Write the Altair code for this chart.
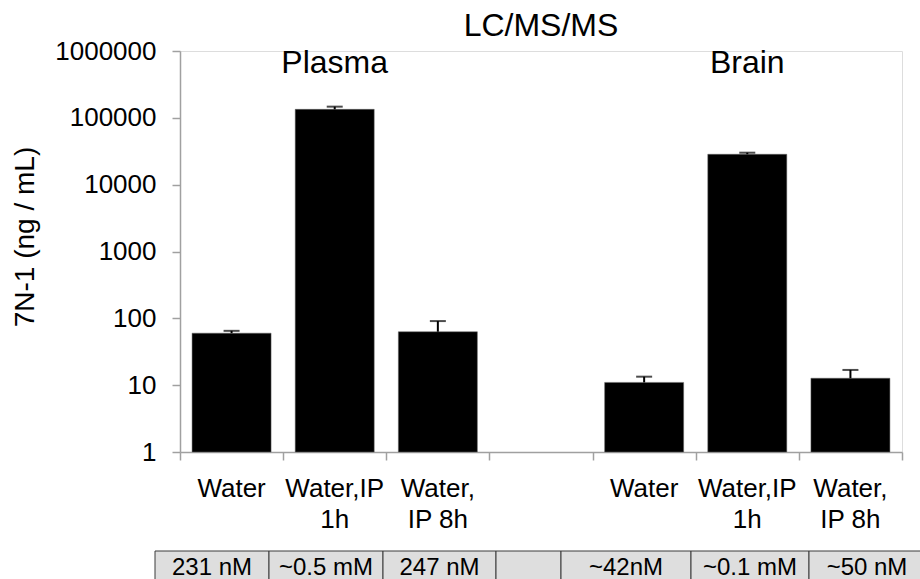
import altair as alt
import pandas as pd

# ---- data ----
categories = ["P_Water", "P_IP1h", "P_IP8h", "gap", "B_Water", "B_IP1h", "B_IP8h"]
cat_labels = ["Water", "Water,IP\n1h", "Water,\nIP 8h", "", "Water", "Water,IP\n1h", "Water,\nIP 8h"]
means = [60, 134000, 63, None, 11, 28500, 12.7]
upper = [65, 147000, 91, None, 13.4, 30100, 16.9]
group_titles = ["Plasma", "Brain"]
group_title_cats = ["P_IP1h", "B_IP1h"]
table_texts = ["231 nM", "~0.5 mM", "247 nM", "", "~42nM", "~0.1 mM", "~50 nM"]
y_ticks = [1, 10, 100, 1000, 10000, 100000, 1000000]

# ---- layout constants ----
W, H = 722, 401
FONT = "Liberation Sans"
table_start = -25
table_widths = [114, 114, 113, 65, 130, 118, 116]

df = pd.DataFrame({"cat": categories, "label": cat_labels, "mean": means, "upper": upper})
bars_df = df.dropna()

edges = [table_start]
for w in table_widths:
    edges.append(edges[-1] + w)
table_df = pd.DataFrame({
    "x0": edges[:-1],
    "x1": edges[1:],
    "xc": [(a + b) / 2 for a, b in zip(edges[:-1], edges[1:])],
    "text": table_texts,
})
heads_df = pd.DataFrame({"cat": group_title_cats, "text": group_titles})

xscale = alt.Scale(domain=categories, paddingInner=0, paddingOuter=0)
yscale = alt.Scale(type="log", domain=[1, 1000000], nice=False)

bars = alt.Chart(bars_df).mark_bar(color="black", width=79, stroke="#666666", strokeWidth=0.5).encode(
    x=alt.X("cat:N", scale=xscale, sort=categories,
            axis=alt.Axis(title=None, labels=False, tickBand="extent", domainColor="#a0a0a0",
                          tickColor="#a0a0a0", tickSize=8, domainWidth=1.5, tickWidth=1.5, grid=False)),
    y=alt.Y("mean:Q", scale=yscale, stack=None,
            axis=alt.Axis(title=None, values=y_ticks, format="d", labelFont=FONT, labelFontSize=26,
                          labelColor="black", labelPadding=16, tickSize=8, domainColor="#a0a0a0",
                          tickColor="#a0a0a0", domainWidth=1.5, tickWidth=1.5, grid=False)),
    y2=alt.Y2(datum=1),
)

err = alt.Chart(bars_df).mark_rule(color="black", strokeWidth=2).encode(
    x=alt.X("cat:N", scale=xscale, sort=categories, axis=None),
    y=alt.Y("mean:Q", scale=yscale),
    y2="upper:Q",
)
caps = alt.Chart(bars_df).mark_tick(color="black", size=16, thickness=2).encode(
    x=alt.X("cat:N", scale=xscale, sort=categories, axis=None),
    y=alt.Y("upper:Q", scale=yscale),
)

xlabels = alt.Chart(df).mark_text(font=FONT, fontSize=26, lineBreak="\n", lineHeight=31,
                                  baseline="alphabetic", align="center", color="black").encode(
    x=alt.X("cat:N", scale=xscale, sort=categories, axis=None),
    y=alt.value(H + 45),
    text="label:N",
)

heads = alt.Chart(heads_df).mark_text(font=FONT, fontSize=32, baseline="alphabetic",
                                      align="center", color="black").encode(
    x=alt.X("cat:N", scale=xscale, sort=categories, axis=None),
    y=alt.value(22),
    text="text:N",
)

main_title = alt.Chart(pd.DataFrame({"cat": ["gap"], "text": ["LC/MS/MS"]})).mark_text(
    font=FONT, fontSize=32, baseline="alphabetic", align="center", color="black").encode(
    x=alt.X("cat:N", scale=xscale, sort=categories, axis=None),
    y=alt.value(-15),
    text="text:N",
)

ytitle = alt.Chart(pd.DataFrame({"t": ["7N-1 (ng  / mL)"]})).mark_text(
    font=FONT, fontSize=28, angle=270, align="center", baseline="middle", color="black").encode(
    x=alt.value(-154), y=alt.value(186), text="t:N")

tscale = alt.Scale(domain=[0, W], range=[0, W], zero=False, nice=False)
table_cells = alt.Chart(table_df).mark_rect(fill="#dedede", stroke="#3a3a3a", strokeWidth=1).encode(
    x=alt.X("x0:Q", scale=tscale, axis=None),
    x2="x1:Q",
    y=alt.value(H + 99),
    y2=alt.value(H + 140),
)
table_text = alt.Chart(table_df).mark_text(font=FONT, fontSize=24, baseline="alphabetic",
                                           align="center", color="black").encode(
    x=alt.X("xc:Q", scale=tscale, axis=None),
    y=alt.value(H + 123),
    text="text:N",
)

chart = alt.layer(
    bars, err, caps, xlabels, heads, main_title, ytitle, table_cells, table_text
).resolve_scale(x="independent").properties(
    width=W, height=H,
    autosize=alt.AutoSizeParams(type="none"),
    padding={"left": 180, "top": 51, "right": 18, "bottom": 127},
).configure_view(stroke=None).configure(background="white")

chart.save("out.html", embed_options={"renderer": "svg", "actions": False})
